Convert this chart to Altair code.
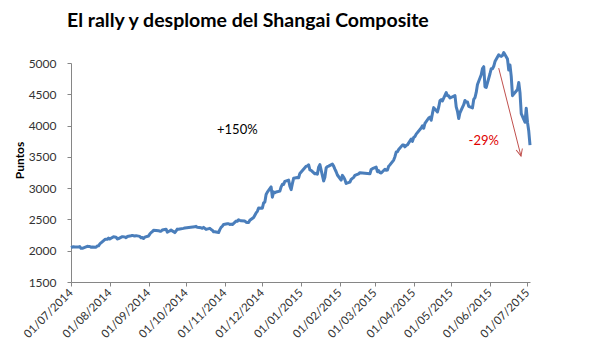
import altair as alt
import pandas as pd

# Shanghai Composite closes (trading days per month)
jul14_days = [1, 2, 3, 4, 7, 8, 9, 10, 11, 14, 15, 16, 17, 18, 21, 22, 23, 24, 25, 28, 29, 30, 31]
jul14_close = [2050, 2059, 2064, 2060, 2059, 2066, 2039, 2038, 2047, 2071, 2068, 2067, 2055, 2060, 2054, 2075, 2078, 2107, 2127, 2178, 2183, 2182, 2201]
aug14_days = [1, 4, 5, 6, 7, 8, 11, 12, 13, 14, 15, 18, 19, 20, 21, 22, 25, 26, 27, 28, 29]
aug14_close = [2186, 2223, 2220, 2217, 2188, 2194, 2224, 2222, 2221, 2207, 2226, 2239, 2245, 2240, 2234, 2241, 2229, 2207, 2213, 2195, 2217]
sep14_days = [1, 2, 3, 4, 5, 9, 10, 11, 12, 15, 16, 17, 18, 19, 22, 23, 24, 25, 26, 29, 30]
sep14_close = [2235, 2266, 2289, 2306, 2326, 2319, 2312, 2311, 2331, 2344, 2296, 2307, 2316, 2329, 2290, 2315, 2345, 2343, 2347, 2357, 2364]
oct14_days = [8, 9, 10, 13, 14, 15, 16, 17, 20, 21, 22, 23, 24, 27, 28, 29, 30, 31]
oct14_close = [2382, 2390, 2374, 2366, 2359, 2373, 2357, 2341, 2357, 2339, 2327, 2302, 2302, 2290, 2337, 2373, 2391, 2420]
nov14_days = [3, 4, 5, 6, 7, 10, 11, 12, 13, 14, 17, 18, 19, 20, 21, 24, 25, 26, 27, 28]
nov14_close = [2430, 2430, 2419, 2425, 2418, 2473, 2469, 2494, 2485, 2478, 2474, 2456, 2451, 2452, 2487, 2532, 2568, 2604, 2630, 2683]
dec14_days = [1, 2, 3, 4, 5, 8, 9, 10, 11, 12, 15, 16, 17, 18, 19, 22, 23, 24, 25, 26, 29, 30, 31]
dec14_close = [2680, 2763, 2779, 2899, 2937, 3020, 2856, 2940, 2925, 2938, 2953, 3021, 3061, 3057, 3108, 3128, 3032, 2977, 3073, 3157, 3169, 3166, 3235]
jan15_days = [5, 6, 7, 8, 9, 12, 13, 14, 15, 16, 19, 20, 21, 22, 23, 26, 27, 28, 29, 30]
jan15_close = [3351, 3352, 3374, 3293, 3285, 3229, 3236, 3222, 3336, 3376, 3116, 3173, 3323, 3343, 3351, 3383, 3352, 3305, 3262, 3210]
feb15_days = [2, 3, 4, 5, 6, 9, 10, 11, 12, 13, 16, 17, 25, 26, 27]
feb15_close = [3128, 3204, 3174, 3136, 3075, 3095, 3141, 3157, 3173, 3203, 3228, 3247, 3229, 3298, 3310]
mar15_days = [2, 3, 4, 5, 6, 9, 10, 11, 12, 13, 16, 17, 18, 19, 20, 23, 24, 25, 26, 27, 30, 31]
mar15_close = [3336, 3263, 3280, 3248, 3241, 3302, 3286, 3290, 3349, 3372, 3449, 3502, 3577, 3582, 3617, 3688, 3691, 3660, 3683, 3691, 3786, 3748]
apr15_days = [1, 2, 3, 7, 8, 9, 10, 13, 14, 15, 16, 17, 20, 21, 22, 23, 24, 27, 28, 29, 30]
apr15_close = [3810, 3825, 3863, 3961, 3995, 3957, 4034, 4121, 4135, 4084, 4194, 4287, 4217, 4293, 4398, 4414, 4394, 4527, 4476, 4476, 4441]
may15_days = [4, 5, 6, 7, 8, 11, 12, 13, 14, 15, 18, 19, 20, 21, 22, 25, 26, 27, 28, 29]
may15_close = [4480, 4298, 4229, 4112, 4205, 4333, 4401, 4375, 4378, 4308, 4283, 4418, 4446, 4529, 4657, 4813, 4910, 4941, 4620, 4611]
jun15_days = [1, 2, 3, 4, 5, 8, 9, 10, 11, 12, 15, 16, 17, 18, 19, 23, 24, 25, 26, 29, 30]
jun15_close = [4828, 4910, 4909, 4947, 5023, 5131, 5113, 5106, 5121, 5166, 5062, 4887, 4967, 4785, 4478, 4576, 4690, 4527, 4192, 4053, 4277]
jul15_days = [1, 2, 3]
jul15_close = [4053, 3912, 3686]

# annotations
ann_rise_label = "+150%"
ann_rise_date = "2014-11-11"
ann_rise_value = 3930
ann_fall_label = "-29%"
ann_fall_date = "2015-05-27"
ann_fall_value = 3750
arrow_start = ("2015-06-08", 4918)
arrow_end = ("2015-06-25T19:00:00", 3512)

y_ticks = [1500, 2000, 2500, 3000, 3500, 4000, 4500, 5000]
tick_months = [(2014, m) for m in range(7, 13)] + [(2015, m) for m in range(1, 8)]

months = [
    (2014, 7, jul14_days, jul14_close), (2014, 8, aug14_days, aug14_close),
    (2014, 9, sep14_days, sep14_close), (2014, 10, oct14_days, oct14_close),
    (2014, 11, nov14_days, nov14_close), (2014, 12, dec14_days, dec14_close),
    (2015, 1, jan15_days, jan15_close), (2015, 2, feb15_days, feb15_close),
    (2015, 3, mar15_days, mar15_close), (2015, 4, apr15_days, apr15_close),
    (2015, 5, may15_days, may15_close), (2015, 6, jun15_days, jun15_close),
    (2015, 7, jul15_days, jul15_close),
]
rows = []
for yy, mm, days, vals in months:
    for d, v in zip(days, vals):
        rows.append({"date": f"{yy}-{mm:02d}-{d:02d}", "close": v})
df = pd.DataFrame(rows)

FONT = "Lato"
x_scale = alt.Scale(
    type="utc",
    domain=[alt.DateTime(year=2014, month=7, date=1, utc=True),
            alt.DateTime(year=2015, month=7, date=3, utc=True)],
)
y_scale = alt.Scale(domain=[1500, 5000], nice=False, zero=False)

x_axis = alt.Axis(
    values=[alt.DateTime(year=y, month=m, date=1, utc=True) for y, m in tick_months],
    format="%d/%m/%Y", labelAngle=-45, labelAlign="right", labelBaseline="middle",
    labelPadding=5, tickSize=4, title=None, labelFont=FONT, labelFontSize=11.5,
    labelColor="#333333", domainColor="#868686", tickColor="#868686", grid=False,
    labelOverlap=False, labelFlush=False,
)
y_axis = alt.Axis(
    values=y_ticks, format="d", title="Puntos", titleFont=FONT, titleFontSize=12,
    titleFontWeight="bold", titleColor="#000000", titleAngle=270,
    titleX=-52, titleY=97, titleAlign="center", titleBaseline="middle",
    labelFont=FONT, labelFontSize=12, labelColor="#333333", labelPadding=11,
    tickSize=4, domainColor="#868686", tickColor="#868686", grid=False,
    labelOverlap=False, labelFlush=False,
)

line = alt.Chart(df).mark_line(color="#4A7EBB", strokeWidth=3, clip=False,
                               strokeJoin="round").encode(
    x=alt.X("date:T", scale=x_scale, axis=x_axis),
    y=alt.Y("close:Q", scale=y_scale, axis=y_axis),
)

rise = alt.Chart(pd.DataFrame({"date": [ann_rise_date], "close": [ann_rise_value],
                               "t": [ann_rise_label]})).mark_text(
    font=FONT, fontSize=13, color="#000000").encode(
    x=alt.X("date:T", scale=x_scale, axis=x_axis),
    y=alt.Y("close:Q", scale=y_scale, axis=y_axis), text="t:N")

fall = alt.Chart(pd.DataFrame({"date": [ann_fall_date], "close": [ann_fall_value],
                               "t": [ann_fall_label]})).mark_text(
    font=FONT, fontSize=13, color="#E00000").encode(
    x=alt.X("date:T", scale=x_scale, axis=x_axis),
    y=alt.Y("close:Q", scale=y_scale, axis=y_axis), text="t:N")

arrow_df = pd.DataFrame({"date": [arrow_start[0]], "close": [arrow_start[1]],
                         "d2": [arrow_end[0]], "v2": [arrow_end[1]]})
arrow = alt.Chart(arrow_df).mark_rule(color="#C0504D", strokeWidth=1).encode(
    x=alt.X("date:T", scale=x_scale, axis=x_axis),
    y=alt.Y("close:Q", scale=y_scale, axis=y_axis),
    x2="d2:T", y2="v2:Q")
head_df = pd.DataFrame({"date": [arrow_end[0]], "close": [arrow_end[1]]})
head = alt.Chart(head_df).mark_point(
    shape="M -0.45 -1 L 0 0 L 0.45 -1", filled=False, size=200, angle=346,
    color="#C0504D", strokeWidth=1, opacity=1).encode(
    x=alt.X("date:T", scale=x_scale, axis=x_axis),
    y=alt.Y("close:Q", scale=y_scale, axis=y_axis))

chart = alt.layer(line, rise, fall, arrow, head).properties(
    width=459, height=219,
    title=alt.Title("El rally y desplome del Shangai Composite", anchor="start",
                    frame="group", dx=-4, offset=5, baseline="alphabetic",
                    font=FONT, fontSize=19.5, fontWeight="bold", color="#000000"),
    autosize=alt.AutoSizeParams(type="none"),
    padding={"left": 63, "top": 55, "right": 51, "bottom": 74},
).configure_view(stroke=None).configure_axis(labelOverlap=False)

chart.save("out.html", embed_options={"renderer": "svg", "actions": False})
